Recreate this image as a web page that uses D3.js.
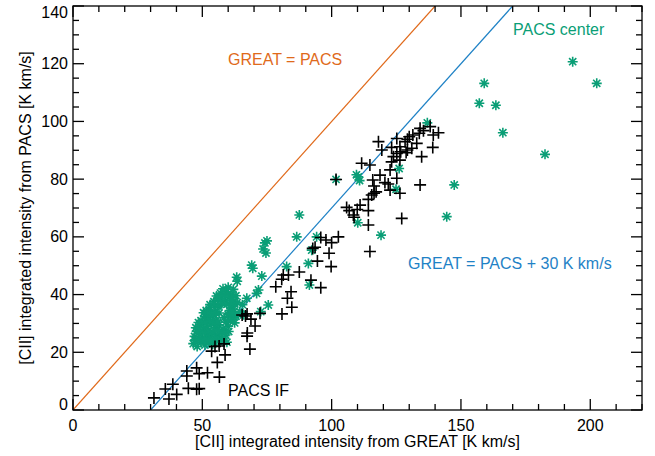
<!DOCTYPE html>
<html>
<head>
<meta charset="utf-8">
<script src="https://cdn.jsdelivr.net/npm/d3@7"></script>
<style>
  html, body { margin: 0; padding: 0; background: #fff; }
  svg { display: block; font-family: "Liberation Sans", Arial, Helvetica, sans-serif; }
</style>
</head>
<body>
<svg id="chart" width="655" height="456"></svg>
<script>
// ---- data ----
const xTicks = [0, 50, 100, 150, 200];
const yTicks = [0, 20, 40, 60, 80, 100, 120, 140];

// PACS IF points (black plus): GREAT value, PACS value
const ifGreat = [31.3,35.7,37.1,38.6,40.1,44.0,44.0,47.8,48.8,52.0,56.6,44.6,47.8,48.8,53.6,54.9,56.5,58.4,58.8,55.8,
  68.4,67.3,67.4,65.4,66.7,67.3,68.8,70.4,72.3,80.8,84.6,82.9,84.3,78.4,80.7,81.3,83.3,87.5,92.0,95.8,
  94.5,92.7,93.6,95.8,97.8,100.0,99.0,99.8,102.6,114.8,101.7,111.6,114.8,118.1,119.4,115.9,118.7,120.6,121.9,116.4,
  117.2,116.4,115.5,114.2,111.0,109.9,105.8,106.8,108.4,108.7,114.2,114.2,127.1,126.4,125.2,122.6,123.2,123.9,125.2,126.7,
  128.8,123.2,125.2,126.4,128.4,129.3,130.0,131.4,132.9,133.9,134.2,135.5,138.1,139.3,141.3,139.1,134.8,134.2,131.0,129.3,
  126.4,122.6];
const ifPacs = [4.2,7.3,3.8,8.9,5.4,13.5,11.8,14.6,12.6,12.9,11.4,7.5,7.2,7.4,20.4,22.0,22.2,22.9,19.1,16.5,
  21.1,25.6,26.7,32.9,32.6,33.3,31.5,29.1,33.5,33.3,35.6,38.7,41.0,42.7,45.3,46.8,46.8,47.8,45.0,42.4,
  51.6,56.0,56.4,59.8,58.9,58.0,54.3,49.7,60.0,54.9,79.9,85.5,84.9,93.0,90.1,79.7,81.4,78.8,78.3,77.6,
  75.6,75.1,74.5,73.0,71.0,69.5,70.2,69.1,67.6,66.8,69.1,64.1,66.4,75.1,80.3,83.2,86.0,87.8,88.9,89.5,
  89.2,91.0,94.1,91.2,93.0,93.8,94.7,95.3,92.4,95.9,97.6,96.8,98.2,95.3,96.1,91.0,87.8,78.0,90.7,90.1,
  86.6,76.2];

// PACS center points (green asterisk): GREAT value, PACS value
const centerGreat = [46.5,48,49.5,51,52.5,54,55.5,
  47,48.5,50,51.5,53,54.5,56,57.5,59,
  47.5,49,50.5,52,53.5,55,56.5,58,60,
  49.5,51,52.5,54,55.5,58.5,60,61.5,63,
  51.5,53,54.5,56,60.5,62,
  54.5,56,57.5,59,60.5,62,
  57,59.5,61.5,
  64.5,66,65.5,59.5,58.1,
  47.2,48.8,50.3,51.8,53.3,54.8,56.3,57.8,
  47.8,49.3,50.8,52.3,53.8,55.3,56.8,58.5,60.2,
  48.5,50,51.5,53,54.5,56,59,60.8,62.5,
  50.5,52,53.5,55,56.5,60.5,62,64,
  53,54.5,56,57.5,59.5,61,62.5,63.5,
  55.5,57,58.5,60,61.5,63,
  58,60,62,
  61.4,63.3,63.5,67.2,69.1,69.5,71.0,71.7,72.6,73.0,73.5,74.2,74.6,75.0,75.5,82.6,86.5,87.5,91.0,91.4,92.3,94.2,
  101.7,109.6,110.3,110.8,110.1,119.1,124.9,126.1,137.0,144.5,147.4,157.1,159.0,163.5,166.2,182.5,193.2,202.5];
const centerPacs = [23.0,22.0,23.5,22.5,23.5,22.8,24.0,
  25.5,26.5,25.0,26.0,25.5,26.5,25.5,27.0,26.0,
  28.5,29.5,28.0,29.0,30.0,28.5,29.5,28.0,29.0,
  31.0,32.5,31.5,33.0,31.0,32.0,33.0,31.5,32.5,
  34.5,35.5,34.0,36.0,34.5,35.0,
  37.5,38.5,37.0,38.0,39.0,37.5,
  40.5,41.0,40.0,
  34.0,33.0,36.5,23.5,23.7,
  24.2,24.4,24.0,24.3,24.1,24.5,24.0,24.6,
  27.2,27.5,27.0,27.4,27.1,27.6,27.3,26.8,27.2,
  30.3,30.6,30.1,30.8,30.2,30.5,30.4,30.9,30.2,
  33.7,33.9,33.5,33.8,33.6,33.4,33.8,33.2,
  36.5,36.8,36.3,36.9,36.6,36.4,36.8,37.2,
  39.5,39.2,39.8,40.2,39.0,39.6,
  42.0,42.5,41.8,
  38.1,46.0,44.6,38.7,50.2,49.1,40.4,41.6,34.1,46.4,55.8,57.9,54.4,58.6,36.4,49.7,60.0,67.6,50.8,43.3,55.4,60.0,
  79.9,81.5,80.8,79.5,64.9,60.6,76.5,83.7,99.5,67.0,78.0,106.3,113.2,105.6,96.1,88.6,120.7,113.2];

// reference lines: GREAT = PACS and GREAT = PACS + 30
const lineOffsets = [0, 30];

// ---- styles ----
const W = 655, H = 456;
const M = { left: 73, right: 13, top: 6, bottom: 46 };
const COL_ORANGE = "#e06a1b";
const COL_BLUE = "#1f82c6";
const COL_GREEN = "#0a9e76";

const svg = d3.select("#chart");
const x = d3.scaleLinear().domain([0, 220]).range([M.left, W - M.right]);
const y = d3.scaleLinear().domain([0, 140]).range([H - M.bottom, M.top]);

svg.append("defs").append("clipPath").attr("id", "clip")
  .append("rect").attr("x", M.left).attr("y", M.top)
  .attr("width", W - M.left - M.right).attr("height", H - M.top - M.bottom);

const plot = svg.append("g").attr("clip-path", "url(#clip)");

// lines
lineOffsets.forEach((off, i) => {
  const yMax = 140;
  plot.append("line")
    .attr("x1", x(off)).attr("y1", y(0))
    .attr("x2", x(yMax + off)).attr("y2", y(yMax))
    .attr("stroke", i === 0 ? COL_ORANGE : COL_BLUE)
    .attr("stroke-width", 1.2);
});

// green asterisks
const starPath = "M-5,0H5M0,-5V5M-3.6,-3.6L3.6,3.6M-3.6,3.6L3.6,-3.6";
plot.append("g").selectAll("path").data(d3.range(centerGreat.length)).join("path")
  .attr("d", starPath)
  .attr("transform", i => `translate(${x(centerGreat[i])},${y(centerPacs[i])})`)
  .attr("stroke", COL_GREEN).attr("stroke-width", 1.6).attr("fill", "none");

// black plus
const plusPath = "M-6,0H6M0,-6V6";
plot.append("g").selectAll("path").data(d3.range(ifGreat.length)).join("path")
  .attr("d", plusPath)
  .attr("transform", i => `translate(${x(ifGreat[i])},${y(ifPacs[i])})`)
  .attr("stroke", "#000").attr("stroke-width", 1.6).attr("fill", "none");

// axes (IDL style: inward ticks on all sides)
const axG = svg.append("g").attr("stroke", "#000").attr("stroke-width", 1.3);
axG.append("rect").attr("x", M.left).attr("y", M.top)
  .attr("width", W - M.left - M.right).attr("height", H - M.top - M.bottom)
  .attr("fill", "none");

const majLen = 11, minLen = 6;
const xMinor = d3.range(0, 221, 10);
const yMinor = d3.range(0, 141, 5);
xMinor.forEach(v => {
  const L = v % 50 === 0 ? majLen : minLen;
  axG.append("line").attr("x1", x(v)).attr("x2", x(v)).attr("y1", y(0)).attr("y2", y(0) - L);
  axG.append("line").attr("x1", x(v)).attr("x2", x(v)).attr("y1", y(140)).attr("y2", y(140) + L);
});
yMinor.forEach(v => {
  const L = v % 20 === 0 ? majLen : minLen;
  axG.append("line").attr("y1", y(v)).attr("y2", y(v)).attr("x1", x(0)).attr("x2", x(0) + L);
  axG.append("line").attr("y1", y(v)).attr("y2", y(v)).attr("x1", x(220)).attr("x2", x(220) - L);
});

// tick labels
const fs = 16;
svg.append("g").selectAll("text").data(xTicks).join("text")
  .attr("x", d => x(d)).attr("y", y(0) + 21)
  .attr("text-anchor", "middle").attr("font-size", fs).attr("fill", "#000")
  .text(d => d);
svg.append("g").selectAll("text").data(yTicks).join("text")
  .attr("x", x(0) - 5)
  .attr("y", d => d === 140 ? y(d) + 12 : (d === 0 ? y(d) : y(d) + 5.5))
  .attr("text-anchor", "end").attr("font-size", fs).attr("fill", "#000")
  .text(d => d);

// axis titles
svg.append("text").attr("x", (M.left + W - M.right) / 2).attr("y", 447)
  .attr("text-anchor", "middle").attr("font-size", fs).attr("fill", "#000")
  .text("[CII] integrated intensity from GREAT [K km/s]");
svg.append("text")
  .attr("transform", `translate(31,${(M.top + H - M.bottom) / 2}) rotate(-90)`)
  .attr("text-anchor", "middle").attr("font-size", fs).attr("fill", "#000")
  .text("[CII] integrated intensity from PACS [K km/s]");

// annotations
svg.append("text").attr("x", 228).attr("y", 65).attr("font-size", fs).attr("fill", COL_ORANGE).text("GREAT = PACS");
svg.append("text").attr("x", 513).attr("y", 35).attr("font-size", fs).attr("fill", COL_GREEN).text("PACS center");
svg.append("text").attr("x", 408).attr("y", 269).attr("font-size", fs).attr("fill", COL_BLUE).text("GREAT = PACS + 30 K km/s");
svg.append("text").attr("x", 228).attr("y", 396).attr("font-size", fs).attr("fill", "#000").text("PACS IF");
</script>
</body>
</html>
